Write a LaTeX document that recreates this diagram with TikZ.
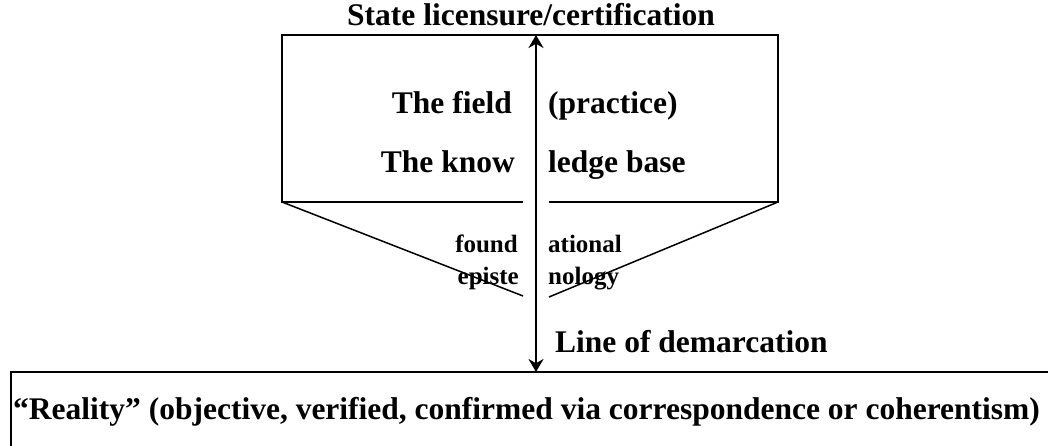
\documentclass[tikz,border=0pt]{standalone}
\usepackage{fontspec}
\setmainfont{Liberation Serif}
\usetikzlibrary{arrows.meta}
\begin{document}
\begin{tikzpicture}[x=1pt,y=-1pt,
  lbl/.style={font=\bfseries\fontsize{31.5}{36}\selectfont, inner sep=0pt},
  small/.style={font=\bfseries\fontsize{25}{29}\selectfont, inner sep=0pt},
  frame/.style={line width=1.5pt},
  axis/.style={line width=1.8pt, {Stealth[length=13pt,width=15pt]}-{Stealth[length=13pt,width=15pt]}}]
\useasboundingbox (0,0) rectangle (1048,446);
% upper box
\coordinate (tl) at (282,35);
\coordinate (tr) at (778,35);
\coordinate (bl) at (282,202);
\coordinate (br) at (778,202);
\coordinate (gl) at (523,202);
\coordinate (gr) at (549,202);
\coordinate (vl) at (523,296);
\coordinate (vr) at (549,297);
\draw[frame] (gl) -- (bl) -- (tl) -- (tr) -- (br) -- (gr);
\draw[frame] (bl) -- (vl);
\draw[frame] (br) -- (vr);
% lower box
\coordinate (rl) at (11,460);
\coordinate (rt) at (11,372);
\coordinate (rr) at (1060,372);
\draw[frame] (rl) -- (rt) -- (rr);
% axis
\coordinate (atop) at (536,35);
\coordinate (abot) at (536,372);
\draw[axis] (abot) -- (atop);
% texts
\node[lbl, anchor=base] (title) at (531,26) {State licensure/certification};
\node[lbl, anchor=base east] (field) at (512,114) {The field};
\node[lbl, anchor=base west] (practice) at (548,114) {(practice)};
\node[lbl, anchor=base east] (know) at (515,173) {The know};
\node[lbl, anchor=base west] (ledge) at (548,173) {ledge base};
\node[small, anchor=base east] (found) at (518,252) {found};
\node[small, anchor=base west] (ational) at (548,252) {ational};
\node[small, anchor=base east] (episte) at (519,284) {episte};
\node[small, anchor=base west] (nology) at (548,284) {nology};
\node[lbl, anchor=base west] (line) at (555,352) {Line of demarcation};
\node[lbl, anchor=base west] (reality) at (13,419) {“Reality” (objective, verified, confirmed via correspondence or coherentism)};
\end{tikzpicture}
\end{document}
